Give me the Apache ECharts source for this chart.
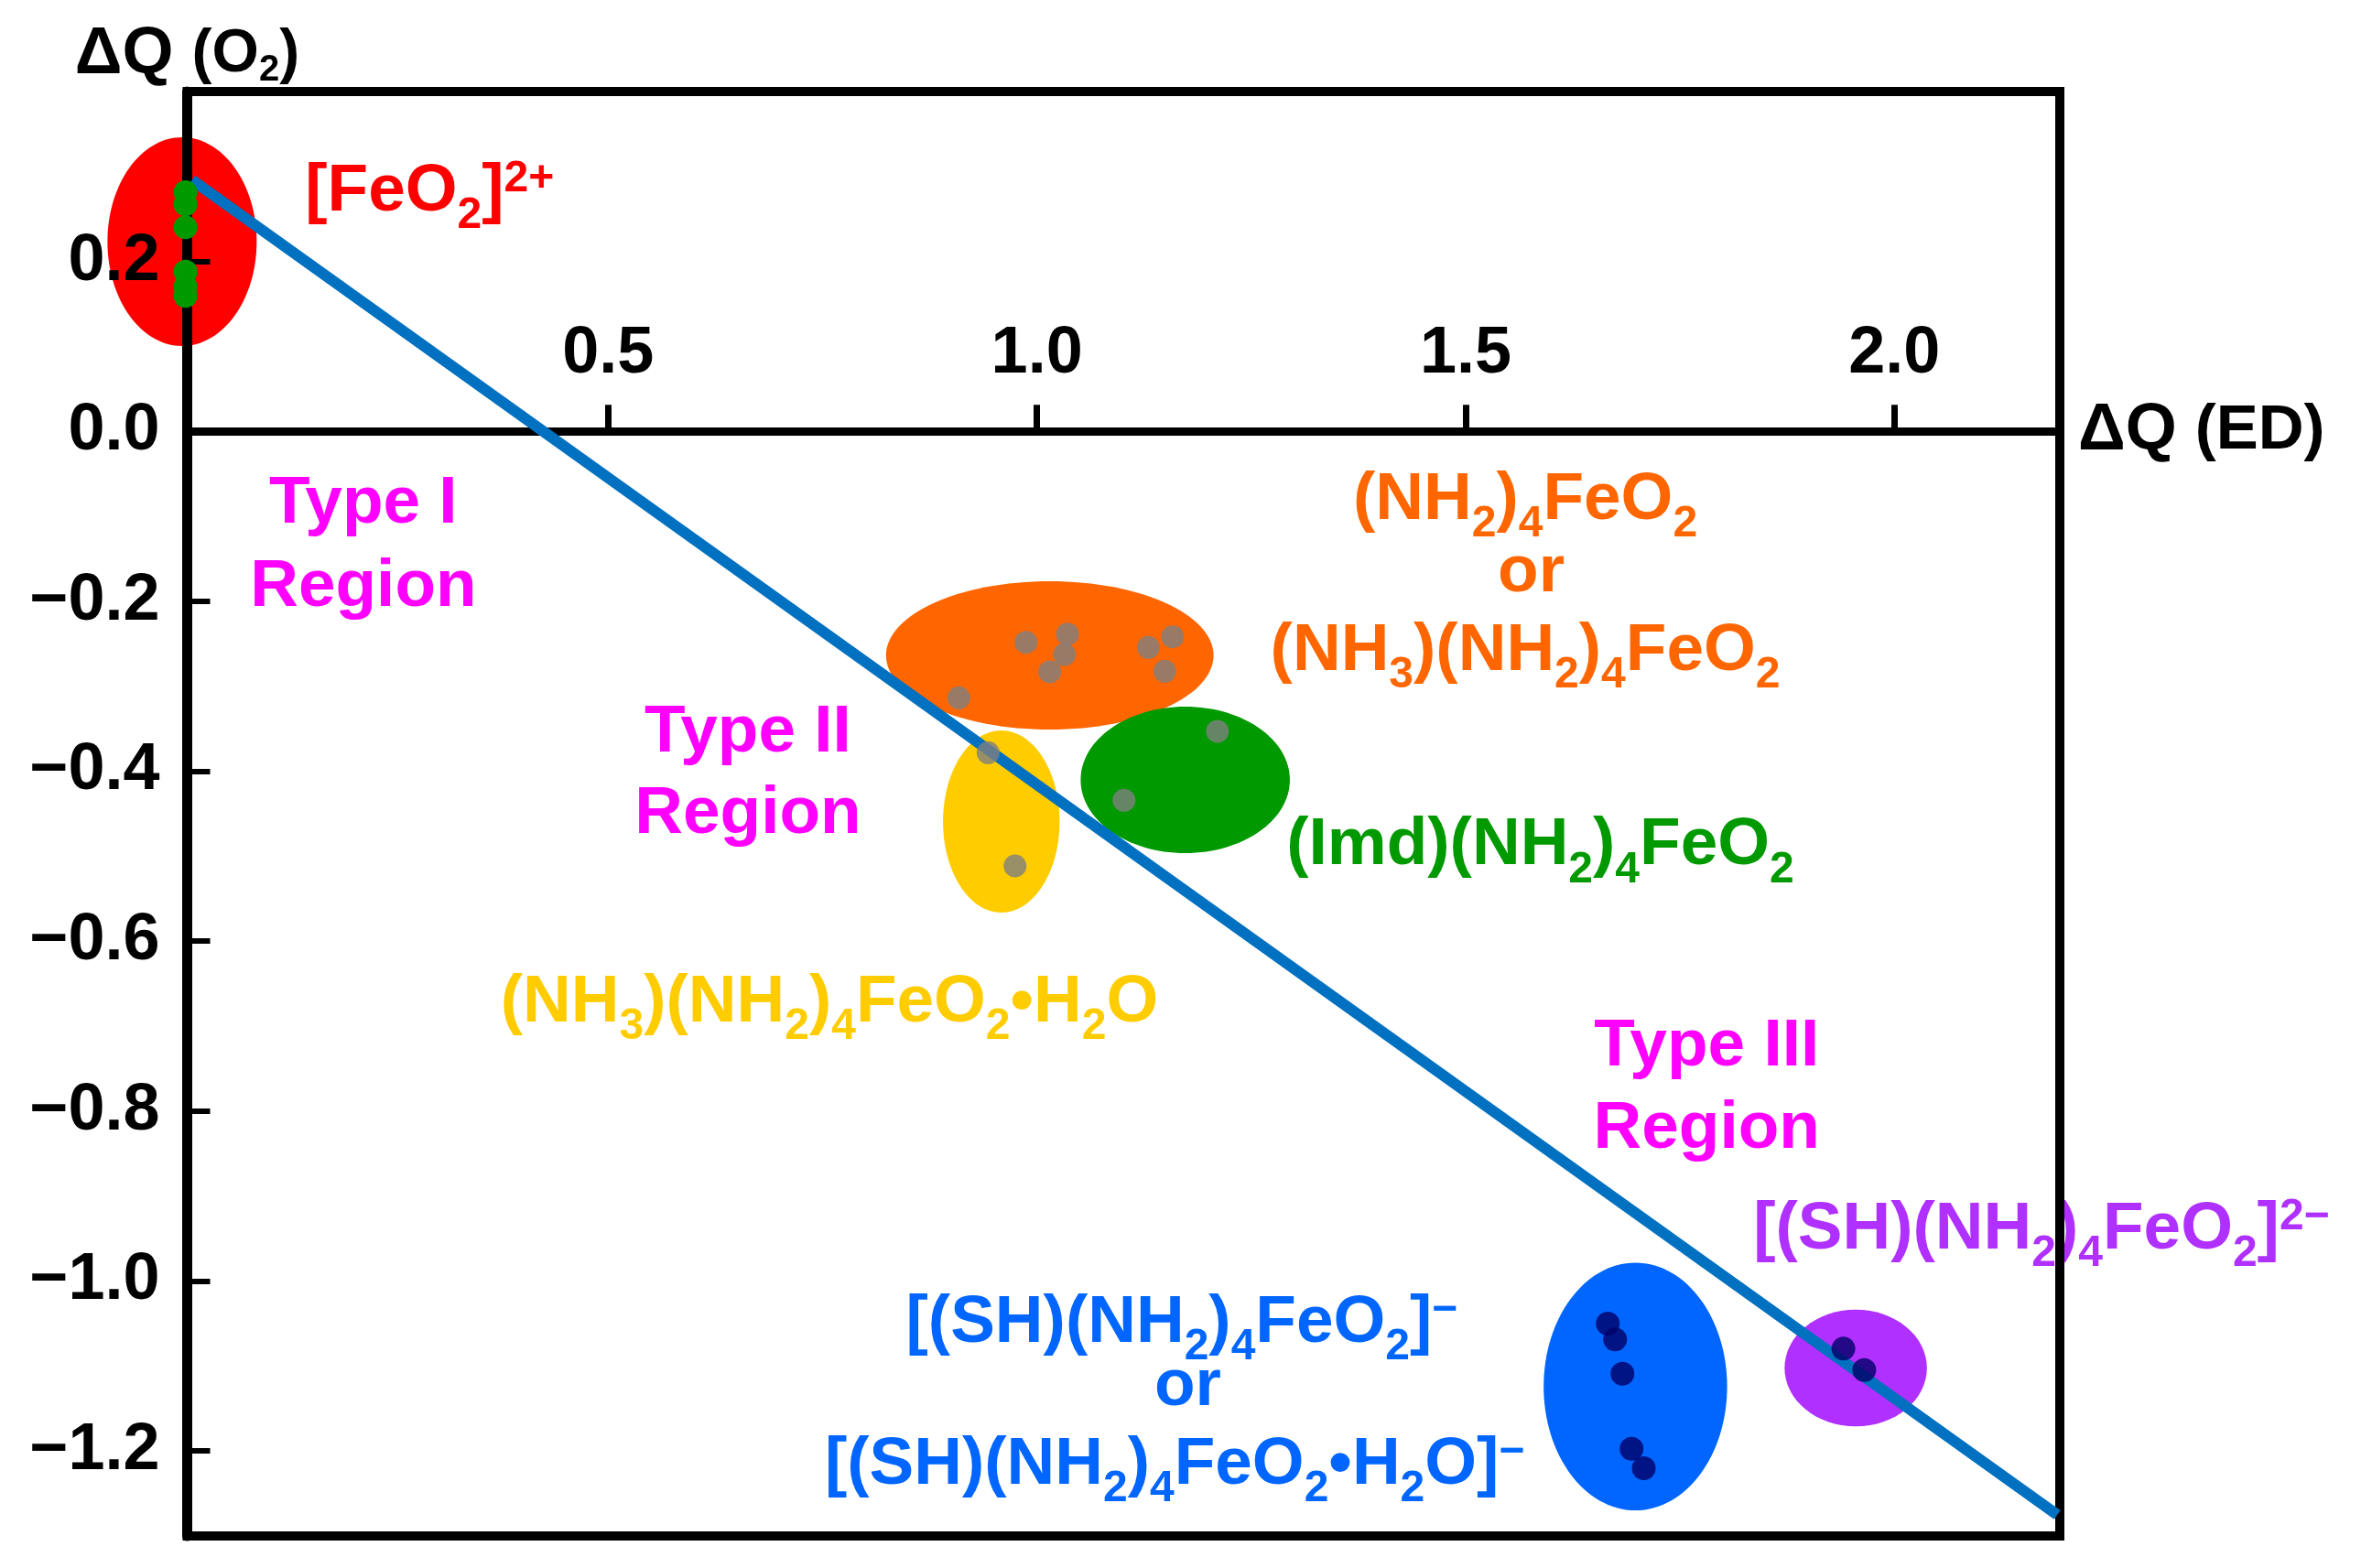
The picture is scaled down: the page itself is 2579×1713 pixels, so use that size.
<!DOCTYPE html>
<html><head><meta charset="utf-8">
<script src="https://cdn.jsdelivr.net/npm/echarts@6/dist/echarts.min.js"></script>
<style>html,body{margin:0;padding:0;background:#fff}#c{width:2579px;height:1713px}</style>
</head><body><div id="c"></div>
<script>
const FONT = '"Liberation Sans", Arial, Helvetica, sans-serif';

// ---- axes ----
const xRange = [0.009, 2.193];
const yRange = [-1.3, 0.4];
const xTicks = [0.5, 1.0, 1.5, 2.0];
const xTickLabels = ['0.5', '1.0', '1.5', '2.0'];
const yTicks = [0.2, 0.0, -0.2, -0.4, -0.6, -0.8, -1.0, -1.2];

// ---- regions (ellipses): centre and half-widths in data units ----
const regionNames = ['[FeO2]2+', '(NH2)4FeO2 / (NH3)(NH2)4FeO2', '(NH3)(NH2)4FeO2·H2O', '(Imd)(NH2)4FeO2', '[(SH)(NH2)4FeO2]- / [(SH)(NH2)4FeO2·H2O]-', '[(SH)(NH2)4FeO2]2-'];
const regionCx = [0.003, 1.015, 0.9585, 1.173, 1.698, 1.955];
const regionCy = [0.2233, -0.2636, -0.4592, -0.4101, -1.1241, -1.1024];
const regionRx = [0.087, 0.191, 0.068, 0.122, 0.107, 0.083];
const regionRy = [0.1228, 0.0873, 0.1072, 0.0862, 0.1458, 0.0687];
const regionColors = ['#FF0000', '#FF6600', '#FFCC00', '#009900', '#0066FF', '#B030FF'];

// ---- points ----
const feo2X = [0.007, 0.007, 0.007, 0.007, 0.007, 0.007];
const feo2Y = [0.2815, 0.2672, 0.2402, 0.1881, 0.1702, 0.1594];
const neutralX = [0.9873, 1.0357, 1.0321, 1.0150, 1.1300, 1.1582, 1.1492, 0.9089, 0.9431, 0.9745, 1.2105, 1.1016];
const neutralY = [-0.2482, -0.2385, -0.2626, -0.2830, -0.2543, -0.2418, -0.2823, -0.3135, -0.3782, -0.5114, -0.3530, -0.4342];
const anionX = [1.6658, 1.6743, 1.6829, 1.6935, 1.7078, 1.9406, 1.9649];
const anionY = [-1.0501, -1.0687, -1.1090, -1.1974, -1.2203, -1.0795, -1.1047];

// ---- fitted line ----
const fitX = [0.0146, 2.19];
const fitY = [0.296, -1.275];

// ---- annotation labels ----
const labelText = [
  '{m|[FeO}{s|2}{m|]}{p|2+}',
  '{m|Type I}', '{m|Region}',
  '{m|Type II}', '{m|Region}',
  '{m|Type III}', '{m|Region}',
  '{m|(NH}{s|2}{m|)}{s|4}{m|FeO}{s|2}', '{m|or}', '{m|(NH}{s|3}{m|)(NH}{s|2}{m|)}{s|4}{m|FeO}{s|2}',
  '{m|(Imd)(NH}{s|2}{m|)}{s|4}{m|FeO}{s|2}',
  '{m|(NH}{s|3}{m|)(NH}{s|2}{m|)}{s|4}{m|FeO}{s|2}{m|•H}{s|2}{m|O}',
  '{m|[(SH)(NH}{s|2}{m|)}{s|4}{m|FeO}{s|2}{m|]}{p|−}', '{m|or}', '{m|[(SH)(NH}{s|2}{m|)}{s|4}{m|FeO}{s|2}{m|•H}{s|2}{m|O]}{p|−}',
  '{m|[(SH)(NH}{s|2}{m|)}{s|4}{m|FeO}{s|2}{m|]}{p|2−}'
];
const labelX = [0.1465, 0.2144, 0.2144, 0.6629, 0.6629, 1.7811, 1.7811, 1.5695, 1.5765, 1.5695, 1.2910, 0.7580, 1.1690, 1.1760, 1.1607, 1.8355];
const labelY = [0.282, -0.0860, -0.1840, -0.3550, -0.4510, -0.7250, -0.8220, -0.0815, -0.1670, -0.2590, -0.4880, -0.6730, -1.0500, -1.1240, -1.2170, -0.9400];
const labelAlign = ['left', 'center', 'center', 'center', 'center', 'center', 'center', 'center', 'center', 'center', 'left', 'center', 'center', 'center', 'center', 'left'];
const labelColor = ['#FF0000', '#FF00FF', '#FF00FF', '#FF00FF', '#FF00FF', '#FF00FF', '#FF00FF', '#FF6600', '#FF6600', '#FF6600', '#009900', '#FFCC00', '#0066FF', '#0066FF', '#0066FF', '#B030FF'];

const rich = {
  m: { fontFamily: FONT, fontWeight: 'bold', fontSize: 73 },
  s: { fontFamily: FONT, fontWeight: 'bold', fontSize: 48, padding: [52, 0, 0, 0] },
  p: { fontFamily: FONT, fontWeight: 'bold', fontSize: 48, padding: [0, 0, 28, 0] }
};

function fmtY(v) {
  if (Math.abs(v) < 1e-9) return '0.0';
  return (v < 0 ? '−' : '') + Math.abs(v).toFixed(1);
}

const chart = echarts.init(document.getElementById('c'), null, { renderer: 'canvas' });
chart.setOption({
  animation: false,
  backgroundColor: '#ffffff',
  grid: {
    left: 204.5, right: 2579 - 2250, top: 100, bottom: 1713 - 1678,
    show: true, borderColor: '#000', borderWidth: 10, z: 4
  },
  xAxis: {
    type: 'value', min: xRange[0], max: xRange[1], z: 5,
    name: '{a|ΔQ} {b|(ED)}', nameLocation: 'end', nameGap: 20,
    nameTextStyle: {
      fontFamily: FONT, fontWeight: 'bold', fontSize: 72, color: '#000',
      rich: {
        a: { fontFamily: FONT, fontWeight: 'bold', fontSize: 72, color: '#000' },
        b: { fontFamily: FONT, fontWeight: 'bold', fontSize: 69, color: '#000' }
      }
    },
    axisLine: { onZero: true, lineStyle: { color: '#000', width: 9 } },
    axisTick: { show: true, inside: true, length: 29, lineStyle: { color: '#000', width: 7 }, customValues: xTicks },
    axisLabel: { show: false },
    splitLine: { show: false }
  },
  yAxis: {
    type: 'value', min: yRange[0], max: yRange[1], z: 5,
    name: '{a|ΔQ} {b|(O}{s|2}{b|)}', nameLocation: 'end', nameGap: 0,
    nameTextStyle: {
      fontFamily: FONT, fontWeight: 'bold', fontSize: 72, color: '#000', align: 'center',
      rich: {
        a: { fontFamily: FONT, fontWeight: 'bold', fontSize: 72, color: '#000', lineHeight: 80 },
        b: { fontFamily: FONT, fontWeight: 'bold', fontSize: 66, color: '#000', lineHeight: 80 },
        s: { fontFamily: FONT, fontWeight: 'bold', fontSize: 40, color: '#000', padding: [34, 0, 0, 0] }
      }
    },
    axisLine: { onZero: false, lineStyle: { color: '#000', width: 11 } },
    axisTick: { show: true, inside: true, length: 25, lineStyle: { color: '#000', width: 6 }, customValues: yTicks },
    axisLabel: {
      margin: 30, fontFamily: FONT, fontWeight: 'bold', fontSize: 72, color: '#000',
      customValues: yTicks, formatter: fmtY
    },
    splitLine: { show: false }
  },
  series: [
    {
      name: 'regions', type: 'custom', z: 1, clip: false,
      data: regionCx.map((x, i) => [x, regionCy[i], regionRx[i], regionRy[i]]),
      encode: { x: 0, y: 1 },
      renderItem: (params, api) => {
        const i = params.dataIndex;
        const c = api.coord([api.value(0), api.value(1)]);
        const s = api.size([api.value(2), api.value(3)]);
        return { type: 'ellipse', shape: { cx: c[0], cy: c[1], rx: s[0], ry: s[1] }, style: { fill: regionColors[i] } };
      }
    },
    {
      name: 'labels', type: 'custom', z: 1, clip: false, silent: true,
      data: labelX.map((x, i) => [x, labelY[i]]),
      encode: { x: 0, y: 1 },
      renderItem: (params, api) => {
        const i = params.dataIndex;
        const c = api.coord([api.value(0), api.value(1)]);
        return {
          type: 'text', x: c[0], y: c[1],
          style: {
            text: labelText[i], rich: rich, fill: labelColor[i],
            fontFamily: FONT, fontWeight: 'bold', fontSize: 73,
            align: labelAlign[i], verticalAlign: 'middle'
          }
        };
      }
    },
    {
      name: 'xTickLabels', type: 'custom', z: 5, clip: false, silent: true,
      data: xTicks.map(v => [v, 0]),
      encode: { x: 0, y: 1 },
      renderItem: (params, api) => {
        const i = params.dataIndex;
        const c = api.coord([api.value(0), api.value(1)]);
        return {
          type: 'text', x: c[0], y: c[1] - 84,
          style: {
            text: xTickLabels[i], fill: '#000',
            fontFamily: FONT, fontWeight: 'bold', fontSize: 72,
            align: 'center', verticalAlign: 'middle'
          }
        };
      }
    },
    {
      name: 'fit', type: 'line', z: 6, clip: false, symbol: 'none',
      data: fitX.map((x, i) => [x, fitY[i]]),
      lineStyle: { color: '#0070C0', width: 12 }
    },
    {
      name: '[FeO2]2+', type: 'scatter', z: 8, zlevel: 0, clip: false, symbolSize: 26,
      data: feo2X.map((x, i) => [x, feo2Y[i]]), itemStyle: { color: '#009A00', opacity: 1 }
    },
    {
      name: 'neutral', type: 'scatter', z: 7, clip: false, symbolSize: 25,
      data: neutralX.map((x, i) => [x, neutralY[i]]), itemStyle: { color: '#808080' }
    },
    {
      name: 'anion', type: 'scatter', z: 7, clip: false, symbolSize: 26,
      data: anionX.map((x, i) => [x, anionY[i]]), itemStyle: { color: '#000066' }
    }
  ]
});
</script>
</body></html>
